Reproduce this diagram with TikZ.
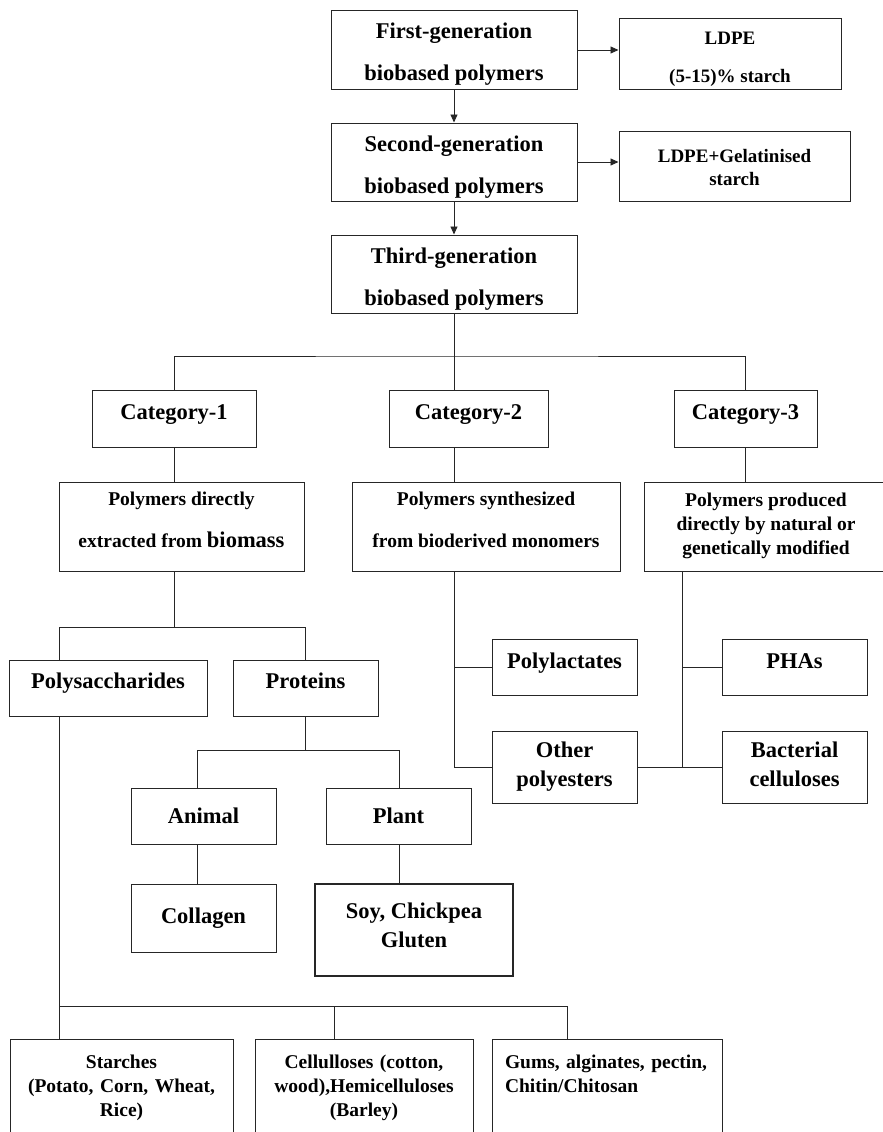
\documentclass[tikz,border=0pt]{standalone}
\usepackage{fontspec}
\setmainfont{Liberation Serif}
\usetikzlibrary{positioning,arrows.meta}

\begin{document}
\begin{tikzpicture}[x=1pt, y=-1pt,
    box/.style={draw=black!85, line width=1pt, inner sep=0pt, align=center},
    lift/.style={text height=#1, text depth=5pt},
    genbox/.style={box, minimum width=246, minimum height=78, lift=67pt, font=\bfseries\fontsize{22.5}{42}\selectfont},
    sidebox/.style={box, minimum height=70, font=\bfseries\fontsize{19}{23}\selectfont},
    catbox/.style={box, minimum height=57, text height=15pt, text depth=14pt, font=\bfseries\fontsize{22.5}{27}\selectfont},
    polybox/.style={box, minimum height=89, lift=46pt, font=\bfseries\fontsize{19.5}{42}\selectfont},
    leafbox/.style={box, minimum height=56, font=\bfseries\fontsize{22.5}{29}\selectfont},
    basebox/.style={box, anchor=north, inner xsep=13pt, inner ysep=15pt, text height=14pt, text depth=120pt, font=\bfseries\fontsize{19.5}{24}\selectfont},
    line/.style={draw=black!85, line width=0.9pt},
    arrow/.style={line, -{Triangle[length=8pt, width=7pt]}}
]
\path[use as bounding box, clip] (0,0) rectangle (883,1132);

% Generaciones
\node[genbox] (gen1) at (454,50)  {First-generation\\biobased polymers};
\node[genbox] (gen2) at (454,162) {Second-generation\\biobased polymers};
\node[genbox] (gen3) at (454,274) {Third-generation\\biobased polymers};
\node[sidebox, minimum width=222, lift=61pt] (ldpe) at (730,54)  {LDPE\\[15pt](5-15)\% starch};
\node[sidebox, minimum width=231, lift=43pt] (gel)  at (734.5,166) {LDPE+Gelatinised\\starch};

% Categorias
\node[catbox, minimum width=164] (cat1) at (174,418.5)   {Category-1};
\node[catbox, minimum width=159] (cat2) at (468.5,418.5) {Category-2};
\node[catbox, minimum width=143] (cat3) at (745.5,418.5) {Category-3};

\node[polybox, minimum width=245] (poly1) at (181.5,526.5) {Polymers directly\\extracted from {\fontsize{22.5}{42}\selectfont biomass}};
\node[polybox, minimum width=268] (poly2) at (486,526.5)   {Polymers synthesized\\from bioderived monomers};
\node[polybox, minimum width=244, lift=60pt, font=\bfseries\fontsize{19.5}{24}\selectfont] (poly3) at (766,526.5)
    {Polymers produced\\directly by natural or\\genetically modified};

% Categoria 1
\node[leafbox, minimum width=198, text height=15pt, text depth=14pt] (psac) at (108,688)   {Polysaccharides};
\node[leafbox, minimum width=145, text height=15pt, text depth=14pt] (prot) at (305.5,688) {Proteins};
\node[leafbox, minimum width=145] (animal) at (203.5,816) {Animal};
\node[leafbox, minimum width=145] (plant)  at (398.5,816) {Plant};
\node[leafbox, minimum width=145, minimum height=68] (coll) at (203.5,918) {Collagen};
\node[leafbox, minimum width=198, minimum height=92, lift=39pt, line width=1.3pt] (soy) at (414,930) {Soy, Chickpea\\Gluten};

% Categorias 2 y 3
\node[leafbox, minimum width=145, text height=15pt, text depth=14pt] (plac) at (564.5,667.5) {Polylactates};
\node[leafbox, minimum width=145, minimum height=72, lift=43pt] (other) at (564.5,767) {Other\\polyesters};
\node[leafbox, minimum width=145, text height=15pt, text depth=14pt] (pha) at (794.5,667.5) {PHAs};
\node[leafbox, minimum width=145, minimum height=72, lift=43pt] (bact) at (794.5,767) {Bacterial\\celluloses};

% Polisacaridos
\node[basebox, minimum width=223, text width=197] (starch) at (121.5,1039) {Starches\\(Potato, Corn, Wheat,\\Rice)};
\node[basebox, minimum width=218, text width=192] (cell)   at (364,1039)   {Cellulloses (cotton,\\wood),Hemicelluloses\\(Barley)};
\node[basebox, minimum width=230, text width=204, align=left] (gums) at (607,1039) {Gums, alginates, pectin,\\Chitin/Chitosan};

% Puntos de union
\coordinate (hub) at (454,356);
\coordinate (k3) at (682,571);
\coordinate (s1) at (59,627);
\coordinate (a1) at (197,750);
\coordinate (a2) at (399,750);
\coordinate (b1) at (59,1006);
\coordinate (b2) at (334,1006);
\coordinate (b3) at (567,1006);

% Flechas
\draw[arrow] (gen1) -- (gen2);
\draw[arrow] (gen2) -- (gen3);
\draw[arrow] (gen1.east) -- (gen1.east -| ldpe.west);
\draw[arrow] (gen2.east) -- (gen2.east -| gel.west);

% Lineas
\draw[line] (gen3.south) -- (gen3.south |- cat2.north);
\draw[line] (cat1.north) |- (hub) -| (cat3.north);
\draw[line] (cat1.south) -- (cat1.south |- poly1.north);
\draw[line] (gen3.south |- cat2.south) -- (gen3.south |- poly2.north);
\draw[line] (cat3.south) -- (cat3.south |- poly3.north);

\draw[line] (gen3.south |- poly2.south) |- (other.west);
\draw[line] (gen3.south |- plac.west) -- (plac.west);
\draw[line] (k3) |- (bact.west);
\draw[line] (k3 |- pha.west) -- (pha.west);
\draw[line] (other.east) -- (bact.west);

\draw[line] (poly1.south -| cat1.south) -- (cat1.south |- s1);
\draw[line] (s1 |- psac.north) -- (s1) -- (prot.north |- s1) -- (prot.north);
\draw[line] (prot.south) -- (prot.south |- a1);
\draw[line] (a1 |- animal.north) -- (a1) -- (a2) -- (a2 |- plant.north);
\draw[line] (a1 |- animal.south) -- (a1 |- coll.north);
\draw[line] (a2 |- plant.south) -- (a2 |- soy.north);

\draw[line] (s1 |- psac.south) -- (b1 |- starch.north);
\draw[line] (b1) -- (b3) -- (b3 |- gums.north);
\draw[line] (b2) -- (b2 |- cell.north);
\end{tikzpicture}
\end{document}
